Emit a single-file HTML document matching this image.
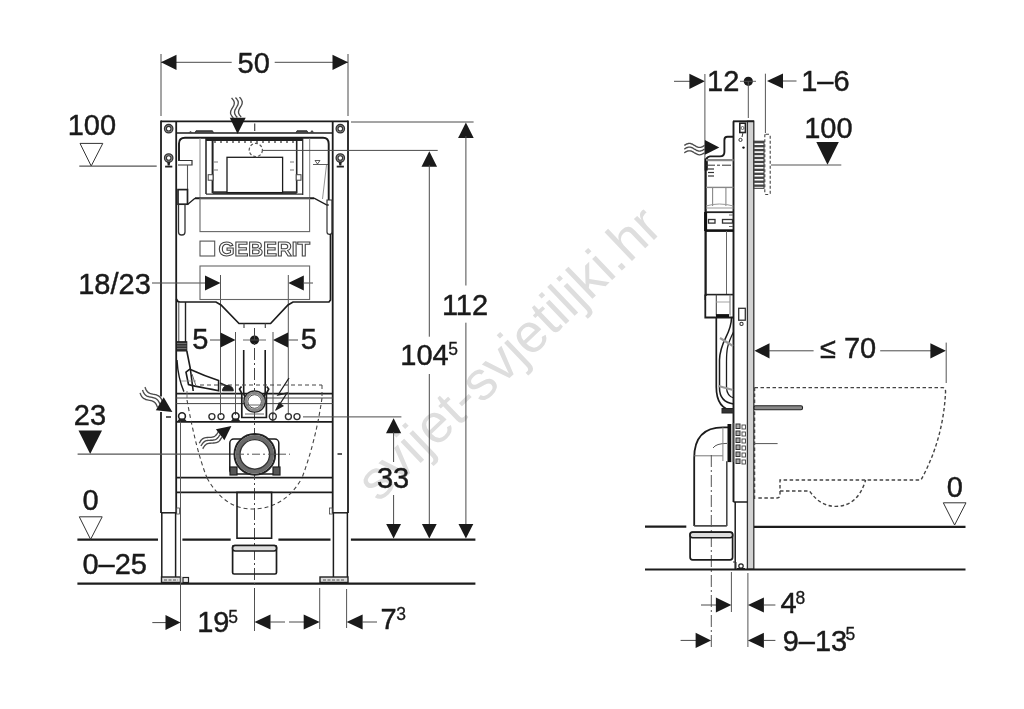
<!DOCTYPE html>
<html><head><meta charset="utf-8"><style>
html,body{margin:0;padding:0;background:#fff;}
svg{display:block;font-family:"Liberation Sans",sans-serif;filter:blur(0.4px);}
</style></head><body>
<svg width="1024" height="709" viewBox="0 0 1024 709">
<rect width="1024" height="709" fill="#fff"/>
<text x="0" y="0" font-size="54.8" fill="#dedede" transform="translate(378.4,503.3) rotate(-43.7)">svijet-svjetiljki.hr</text>
<line x1="161" y1="54" x2="161" y2="116" stroke="#4a4a4a" stroke-width="1.0" stroke-linecap="butt"/>
<line x1="348" y1="54" x2="348" y2="116" stroke="#4a4a4a" stroke-width="1.0" stroke-linecap="butt"/>
<line x1="161" y1="62.3" x2="231.7" y2="62.3" stroke="#4a4a4a" stroke-width="1.0" stroke-linecap="butt"/>
<line x1="274.7" y1="62.3" x2="348" y2="62.3" stroke="#4a4a4a" stroke-width="1.0" stroke-linecap="butt"/>
<polygon points="161.0,62.3 176.5,54.7 176.5,69.9" fill="#1a1a1a"/>
<polygon points="348.0,62.3 332.5,54.7 332.5,69.9" fill="#1a1a1a"/>
<text x="237.5" y="72.6" font-size="29" fill="#1a1a1a" stroke="#1a1a1a" stroke-width="0.45" >50</text>
<text x="67.7" y="135.1" font-size="29" fill="#1a1a1a" stroke="#1a1a1a" stroke-width="0.45" >100</text>
<path d="M80,143.4 L102.8,143.4 L91.2,166 Z" stroke="#333" stroke-width="1.0" fill="none" />
<line x1="79.3" y1="166.2" x2="156.7" y2="166.2" stroke="#555" stroke-width="1.2" stroke-linecap="butt"/>
<line x1="161" y1="121.3" x2="348" y2="121.3" stroke="#1c1c1c" stroke-width="1.8" stroke-linecap="butt"/>
<line x1="161" y1="120.5" x2="161" y2="396.5" stroke="#1c1c1c" stroke-width="1.8" stroke-linecap="butt"/>
<line x1="161" y1="412" x2="161" y2="513" stroke="#1c1c1c" stroke-width="1.8" stroke-linecap="butt"/>
<line x1="348" y1="120.5" x2="348" y2="513" stroke="#1c1c1c" stroke-width="1.8" stroke-linecap="butt"/>
<line x1="176.2" y1="121" x2="176.2" y2="513" stroke="#1c1c1c" stroke-width="1.8" stroke-linecap="butt"/>
<line x1="332.7" y1="121" x2="332.7" y2="513" stroke="#1c1c1c" stroke-width="1.8" stroke-linecap="butt"/>
<line x1="176" y1="133" x2="333" y2="133" stroke="#1c1c1c" stroke-width="1.6" stroke-linecap="butt"/>
<line x1="176" y1="393.6" x2="333" y2="393.6" stroke="#1c1c1c" stroke-width="1.8" stroke-linecap="butt"/>
<line x1="176" y1="398" x2="333" y2="398" stroke="#444" stroke-width="1.0" stroke-linecap="butt"/>
<line x1="176" y1="403.6" x2="333" y2="403.6" stroke="#444" stroke-width="1.0" stroke-linecap="butt"/>
<line x1="176" y1="421.9" x2="333" y2="421.9" stroke="#1c1c1c" stroke-width="1.8" stroke-linecap="butt"/>
<line x1="176" y1="477.7" x2="333" y2="477.7" stroke="#1c1c1c" stroke-width="1.8" stroke-linecap="butt"/>
<line x1="176" y1="492.4" x2="333" y2="492.4" stroke="#1c1c1c" stroke-width="1.8" stroke-linecap="butt"/>
<line x1="161" y1="512.8" x2="176.5" y2="512.8" stroke="#1c1c1c" stroke-width="1.5" stroke-linecap="butt"/>
<line x1="332.6" y1="512.8" x2="348" y2="512.8" stroke="#1c1c1c" stroke-width="1.5" stroke-linecap="butt"/>
<line x1="161.8" y1="512.8" x2="161.8" y2="577" stroke="#1c1c1c" stroke-width="1.5" stroke-linecap="butt"/>
<line x1="175.6" y1="512.8" x2="175.6" y2="577" stroke="#1c1c1c" stroke-width="1.5" stroke-linecap="butt"/>
<line x1="333.4" y1="512.8" x2="333.4" y2="577" stroke="#1c1c1c" stroke-width="1.5" stroke-linecap="butt"/>
<line x1="347.4" y1="512.8" x2="347.4" y2="577" stroke="#1c1c1c" stroke-width="1.5" stroke-linecap="butt"/>
<rect x="161.5" y="577" width="19" height="5.5" stroke="#222" stroke-width="1.4" fill="#ddd" rx="0"/>
<rect x="183" y="577.5" width="5.5" height="5" stroke="#222" stroke-width="1.2" fill="#eee" rx="0"/>
<line x1="164" y1="580" x2="178" y2="580" stroke="#555" stroke-width="1.0" stroke-linecap="butt" stroke-dasharray="3,1.5"/>
<rect x="320" y="577" width="28" height="5.5" stroke="#222" stroke-width="1.4" fill="#ddd" rx="0"/>
<line x1="323" y1="580" x2="345" y2="580" stroke="#555" stroke-width="1.0" stroke-linecap="butt" stroke-dasharray="3,1.5"/>
<circle cx="168.7" cy="128.7" r="4.2" stroke="#333" stroke-width="1.3" fill="#9a9a9a"/>
<circle cx="168.7" cy="128.7" r="2.3" stroke="#333" stroke-width="1.1" fill="#fff"/>
<circle cx="168.7" cy="158" r="4.2" stroke="#333" stroke-width="1.3" fill="#9a9a9a"/>
<circle cx="168.7" cy="158" r="2.3" stroke="#333" stroke-width="1.1" fill="#fff"/>
<polygon points="167.2,162 170.2,162 169.7,165.5 167.7,165.5" fill="#222"/>
<line x1="165.1" y1="166.6" x2="172.29999999999998" y2="166.6" stroke="#222" stroke-width="1.8" stroke-linecap="butt"/>
<circle cx="340.3" cy="128.7" r="4.2" stroke="#333" stroke-width="1.3" fill="#9a9a9a"/>
<circle cx="340.3" cy="128.7" r="2.3" stroke="#333" stroke-width="1.1" fill="#fff"/>
<circle cx="340.3" cy="158" r="4.2" stroke="#333" stroke-width="1.3" fill="#9a9a9a"/>
<circle cx="340.3" cy="158" r="2.3" stroke="#333" stroke-width="1.1" fill="#fff"/>
<polygon points="338.8,162 341.8,162 341.3,165.5 339.3,165.5" fill="#222"/>
<line x1="336.7" y1="166.6" x2="343.90000000000003" y2="166.6" stroke="#222" stroke-width="1.8" stroke-linecap="butt"/>
<line x1="166" y1="417" x2="171" y2="417" stroke="#333" stroke-width="1.6" stroke-linecap="butt"/>
<line x1="337.5" y1="454" x2="342" y2="454" stroke="#333" stroke-width="1.6" stroke-linecap="butt"/>
<rect x="329.5" y="508" width="3" height="6" stroke="#444" stroke-width="0.8" fill="none" rx="0"/>
<rect x="176.5" y="508" width="3" height="6" stroke="#444" stroke-width="0.8" fill="none" rx="0"/>
<line x1="351" y1="122" x2="473.6" y2="122" stroke="#4a4a4a" stroke-width="1.0" stroke-linecap="butt"/>
<polygon points="465.9,122.5 458.1,138.0 473.7,138.0" fill="#1a1a1a"/>
<line x1="465.9" y1="136" x2="465.9" y2="285.5" stroke="#4a4a4a" stroke-width="1.0" stroke-linecap="butt"/>
<line x1="465.9" y1="322.7" x2="465.9" y2="526" stroke="#4a4a4a" stroke-width="1.0" stroke-linecap="butt"/>
<polygon points="465.9,538.5 458.5,524.0 473.3,524.0" fill="#1a1a1a"/>
<text x="441.9" y="315" font-size="29" fill="#1a1a1a" stroke="#1a1a1a" stroke-width="0.45" >112</text>
<polygon points="429.3,151.3 421.5,166.8 437.1,166.8" fill="#1a1a1a"/>
<line x1="429.3" y1="165" x2="429.3" y2="336.7" stroke="#4a4a4a" stroke-width="1.0" stroke-linecap="butt"/>
<line x1="429.3" y1="374" x2="429.3" y2="526" stroke="#4a4a4a" stroke-width="1.0" stroke-linecap="butt"/>
<polygon points="429.3,538.5 421.9,524.0 436.7,524.0" fill="#1a1a1a"/>
<text x="400.3" y="365" font-size="29" fill="#1a1a1a" stroke="#1a1a1a" stroke-width="0.45" >104</text>
<text x="448.3" y="355.3" font-size="17.5" fill="#1a1a1a" stroke="#1a1a1a" stroke-width="0.3" >5</text>
<line x1="303" y1="416.9" x2="401.4" y2="416.9" stroke="#4a4a4a" stroke-width="1.0" stroke-linecap="butt"/>
<polygon points="393.6,418.3 386.0,433.3 401.2,433.3" fill="#1a1a1a"/>
<line x1="393.6" y1="432" x2="393.6" y2="462" stroke="#4a4a4a" stroke-width="1.0" stroke-linecap="butt"/>
<line x1="393.6" y1="495" x2="393.6" y2="526" stroke="#4a4a4a" stroke-width="1.0" stroke-linecap="butt"/>
<polygon points="393.6,538.5 386.2,524.0 401.0,524.0" fill="#1a1a1a"/>
<text x="376.9" y="488" font-size="29" fill="#1a1a1a" stroke="#1a1a1a" stroke-width="0.45" >33</text>
<line x1="77.4" y1="539.7" x2="158" y2="539.7" stroke="#1c1c1c" stroke-width="2.2" stroke-linecap="butt"/>
<line x1="182.4" y1="539.7" x2="230.7" y2="539.7" stroke="#1c1c1c" stroke-width="2.2" stroke-linecap="butt"/>
<line x1="278.4" y1="539.7" x2="330.5" y2="539.7" stroke="#1c1c1c" stroke-width="2.2" stroke-linecap="butt"/>
<line x1="350.9" y1="539.7" x2="475.4" y2="539.7" stroke="#1c1c1c" stroke-width="2.2" stroke-linecap="butt"/>
<line x1="77.4" y1="583.7" x2="475.4" y2="583.7" stroke="#1c1c1c" stroke-width="2.2" stroke-linecap="butt"/>
<text x="82.4" y="510.3" font-size="29" fill="#1a1a1a" stroke="#1a1a1a" stroke-width="0.45" >0</text>
<path d="M79.3,516.8 L102.2,516.8 L90.6,539.4 Z" stroke="#333" stroke-width="1.0" fill="none" />
<text x="82.4" y="574.1" font-size="29" fill="#1a1a1a" stroke="#1a1a1a" stroke-width="0.45" >0–25</text>
<text x="73.8" y="424.5" font-size="29" fill="#1a1a1a" stroke="#1a1a1a" stroke-width="0.45" >23</text>
<polygon points="78.5,430.4 102,430.4 90.2,453.9" fill="#1a1a1a"/>
<line x1="77.6" y1="454.2" x2="236" y2="454.2" stroke="#555" stroke-width="1.2" stroke-linecap="butt"/>
<line x1="240" y1="454.2" x2="290" y2="454.2" stroke="#555" stroke-width="1.0" stroke-linecap="butt" stroke-dasharray="10,3,2,3"/>
<line x1="180.5" y1="420" x2="180.5" y2="631" stroke="#555" stroke-width="1.0" stroke-linecap="butt"/>
<line x1="152.3" y1="622.6" x2="166" y2="622.6" stroke="#4a4a4a" stroke-width="1.0" stroke-linecap="butt"/>
<polygon points="180.5,622.6 165.5,615.1 165.5,630.1" fill="#1a1a1a"/>
<text x="197.2" y="632.2" font-size="29" fill="#1a1a1a" stroke="#1a1a1a" stroke-width="0.45" >19</text>
<text x="228.3" y="622.6" font-size="17.5" fill="#1a1a1a" stroke="#1a1a1a" stroke-width="0.3" >5</text>
<line x1="254.5" y1="588" x2="254.5" y2="631" stroke="#555" stroke-width="1.0" stroke-linecap="butt"/>
<line x1="319.7" y1="588" x2="319.7" y2="629" stroke="#555" stroke-width="1.0" stroke-linecap="butt"/>
<line x1="346.6" y1="589" x2="346.6" y2="628" stroke="#555" stroke-width="1.0" stroke-linecap="butt"/>
<polygon points="254.5,622.0 270.5,614.5 270.5,629.5" fill="#1a1a1a"/>
<line x1="270" y1="622" x2="285" y2="622" stroke="#4a4a4a" stroke-width="1.0" stroke-linecap="butt"/>
<line x1="289" y1="622" x2="305" y2="622" stroke="#4a4a4a" stroke-width="1.0" stroke-linecap="butt"/>
<polygon points="319.7,622.0 303.7,614.5 303.7,629.5" fill="#1a1a1a"/>
<polygon points="346.6,622.0 362.6,614.5 362.6,629.5" fill="#1a1a1a"/>
<line x1="362" y1="622" x2="377" y2="622" stroke="#4a4a4a" stroke-width="1.0" stroke-linecap="butt"/>
<text x="380.6" y="629.3" font-size="29" fill="#1a1a1a" stroke="#1a1a1a" stroke-width="0.45" >7</text>
<text x="396.3" y="619.8" font-size="17.5" fill="#1a1a1a" stroke="#1a1a1a" stroke-width="0.3" >3</text>
<text x="78.2" y="294.3" font-size="29" fill="#1a1a1a" stroke="#1a1a1a" stroke-width="0.45" >18/23</text>
<line x1="152" y1="283" x2="206" y2="283" stroke="#4a4a4a" stroke-width="1.0" stroke-linecap="butt"/>
<polygon points="220.5,283.0 205.0,275.4 205.0,290.6" fill="#1a1a1a"/>
<polygon points="288.3,283.0 303.8,275.4 303.8,290.6" fill="#1a1a1a"/>
<line x1="303" y1="283" x2="313" y2="283" stroke="#4a4a4a" stroke-width="1.0" stroke-linecap="butt"/>
<line x1="220.5" y1="275" x2="220.5" y2="415" stroke="#555" stroke-width="1.0" stroke-linecap="butt"/>
<line x1="288.3" y1="275" x2="288.3" y2="415" stroke="#555" stroke-width="1.0" stroke-linecap="butt"/>
<text x="192.2" y="349.2" font-size="29" fill="#1a1a1a" stroke="#1a1a1a" stroke-width="0.45" >5</text>
<text x="300.7" y="349.2" font-size="29" fill="#1a1a1a" stroke="#1a1a1a" stroke-width="0.45" >5</text>
<line x1="210" y1="340" x2="221" y2="340" stroke="#4a4a4a" stroke-width="1.0" stroke-linecap="butt"/>
<polygon points="235.5,340.0 220.5,332.4 220.5,347.6" fill="#1a1a1a"/>
<polygon points="273.0,340.0 288.0,332.4 288.0,347.6" fill="#1a1a1a"/>
<line x1="288" y1="340" x2="298" y2="340" stroke="#4a4a4a" stroke-width="1.0" stroke-linecap="butt"/>
<line x1="235.5" y1="332" x2="235.5" y2="415" stroke="#555" stroke-width="1.0" stroke-linecap="butt"/>
<line x1="273" y1="332" x2="273" y2="415" stroke="#555" stroke-width="1.0" stroke-linecap="butt"/>
<circle cx="254.5" cy="340" r="4.6" stroke="none" stroke-width="0" fill="#1a1a1a"/>
<line x1="243" y1="340" x2="266" y2="340" stroke="#555" stroke-width="0.9" stroke-linecap="butt"/>
<line x1="254.5" y1="328" x2="254.5" y2="602" stroke="#444" stroke-width="1.0" stroke-linecap="butt" stroke-dasharray="12,3,2,3"/>
<path d="M179,160.5 L179,143.5 Q179,137.8 185,137.8 L323,137.8 Q328.7,137.8 328.7,144 L328.7,200" stroke="#1c1c1c" stroke-width="1.9" fill="none" />
<line x1="200" y1="138" x2="200" y2="198.2" stroke="#888" stroke-width="1.0" stroke-linecap="butt"/>
<line x1="206" y1="137.8" x2="206" y2="194" stroke="#222" stroke-width="1.5" stroke-linecap="butt"/>
<line x1="302.7" y1="137.8" x2="302.7" y2="195" stroke="#333" stroke-width="1.3" stroke-linecap="butt"/>
<line x1="212.6" y1="140" x2="212.6" y2="193" stroke="#222" stroke-width="2.0" stroke-linecap="butt"/>
<line x1="296.7" y1="140" x2="296.7" y2="193" stroke="#222" stroke-width="1.6" stroke-linecap="butt"/>
<line x1="206" y1="194.2" x2="302.7" y2="194.2" stroke="#333" stroke-width="1.3" stroke-linecap="butt"/>
<line x1="212.6" y1="192.6" x2="296.7" y2="192.6" stroke="#333" stroke-width="2.6" stroke-linecap="butt"/>
<line x1="206" y1="139.3" x2="302.7" y2="139.3" stroke="#222" stroke-width="3.2" stroke-linecap="butt"/>
<line x1="214" y1="142" x2="296" y2="142" stroke="#555" stroke-width="1.4" stroke-linecap="butt" stroke-dasharray="2,4"/>
<rect x="227" y="157.3" width="55.6" height="35.3" stroke="#1c1c1c" stroke-width="1.3" fill="#fff" rx="0"/>
<line x1="309.7" y1="138" x2="309.7" y2="199" stroke="#777" stroke-width="0.9" stroke-linecap="butt"/>
<line x1="262.4" y1="150.4" x2="437.7" y2="150.4" stroke="#4a4a4a" stroke-width="1.0" stroke-linecap="butt"/>
<circle cx="255.8" cy="150" r="6.6" fill="#fff" stroke="#555" stroke-width="1.2" stroke-dasharray="3,2"/>
<line x1="214" y1="162" x2="218" y2="162" stroke="#555" stroke-width="0.8" stroke-linecap="butt"/>
<line x1="214" y1="170" x2="218" y2="170" stroke="#555" stroke-width="0.8" stroke-linecap="butt"/>
<line x1="290" y1="162" x2="294" y2="162" stroke="#555" stroke-width="0.8" stroke-linecap="butt"/>
<line x1="290" y1="170" x2="294" y2="170" stroke="#555" stroke-width="0.8" stroke-linecap="butt"/>
<rect x="208.2" y="174.7" width="4.8" height="5.5" stroke="#444" stroke-width="1.0" fill="#fff" rx="0"/>
<rect x="296.2" y="174.7" width="4.8" height="5.5" stroke="#444" stroke-width="1.0" fill="#fff" rx="0"/>
<path d="M315,160.5 L320,160.5 L317.5,164 Z" stroke="#333" stroke-width="0.8" fill="none" />
<line x1="313" y1="164.5" x2="328" y2="164.5" stroke="#333" stroke-width="0.8" stroke-linecap="butt"/>
<line x1="326.5" y1="165" x2="322.5" y2="199" stroke="#777" stroke-width="0.8" stroke-linecap="butt"/>
<path d="M195,133 L196,130.8 L212.5,130.8 L213.5,133" stroke="#333" stroke-width="1.0" fill="#444" />
<path d="M296,133 L297,130.8 L307,130.8 L308,133" stroke="#333" stroke-width="1.0" fill="#444" />
<polygon points="309.5,133 312,130 314.5,133" fill="#444"/>
<polygon points="188,133 190.5,131 193,133" fill="#444"/>
<line x1="254.7" y1="123.5" x2="254.7" y2="131" stroke="#444" stroke-width="1.2" stroke-linecap="butt"/>
<path d="M178,160.5 L192,160.5 L192,165 L178,165" stroke="#333" stroke-width="1.2" fill="none" />
<line x1="187.5" y1="165" x2="187.5" y2="189.6" stroke="#555" stroke-width="1.1" stroke-linecap="butt"/>
<rect x="178" y="189.6" width="9.5" height="14.6" stroke="#222" stroke-width="1.7" fill="none" rx="0"/>
<path d="M178.5,204.2 L178.5,232 Q178.5,235 181.5,235 L182,235 Q185,235 185,232 L185,204.2" stroke="#333" stroke-width="1.3" fill="none" />
<path d="M187.5,204.5 L195,198.2" stroke="#1c1c1c" stroke-width="1.3" fill="none" />
<line x1="195" y1="198.2" x2="314" y2="198.2" stroke="#1c1c1c" stroke-width="1.9" stroke-linecap="butt"/>
<path d="M314,198.2 L327,205 L328.7,205" stroke="#1c1c1c" stroke-width="1.3" fill="none" />
<path d="M327,200 L332,200 L332,232 Q332,234.4 329.5,234.4 Q327,234.4 327,232 Z" stroke="#333" stroke-width="1.2" fill="none" />
<rect x="200" y="198.2" width="109.6" height="33.4" stroke="#666" stroke-width="1.1" fill="none" rx="0"/>
<rect x="200" y="241.1" width="14.7" height="14.9" stroke="#555" stroke-width="1.1" fill="none" rx="0"/>
<text x="218.6" y="256.3" font-size="20.6" font-weight="bold" fill="#fff" stroke="#444" stroke-width="1.1" textLength="91.5" lengthAdjust="spacingAndGlyphs">GEBERIT</text>
<rect x="200" y="266" width="109.6" height="33.5" stroke="#666" stroke-width="1.1" fill="none" rx="0"/>
<path d="M176.5,299 Q177,302 180,302 L216,302 L221,305 L239,323.5 L270.6,323.5 L288,305 L293,302 L329,302 L330.5,300 L330.5,234" stroke="#1c1c1c" stroke-width="1.7" fill="none" />
<line x1="244" y1="323.5" x2="244" y2="328" stroke="#4a4a4a" stroke-width="1.2" stroke-linecap="butt"/>
<line x1="265.3" y1="323.5" x2="265.3" y2="328" stroke="#4a4a4a" stroke-width="1.2" stroke-linecap="butt"/>
<line x1="185.5" y1="302" x2="185.5" y2="342" stroke="#222" stroke-width="1.4" stroke-linecap="butt"/>
<line x1="178.8" y1="302" x2="178.8" y2="342" stroke="#444" stroke-width="1.0" stroke-linecap="butt"/>
<rect x="176.5" y="341.7" width="10.3" height="9.3" stroke="#1c1c1c" stroke-width="1" fill="#333" rx="0"/>
<line x1="177" y1="343.5" x2="186.5" y2="343.5" stroke="#888" stroke-width="0.7" stroke-linecap="butt"/>
<line x1="177" y1="346" x2="186.5" y2="346" stroke="#888" stroke-width="0.7" stroke-linecap="butt"/>
<line x1="177" y1="348.5" x2="186.5" y2="348.5" stroke="#888" stroke-width="0.7" stroke-linecap="butt"/>
<path d="M243.7,350 L243.7,392 Q243.7,398 248,398" stroke="#1c1c1c" stroke-width="1.6" fill="none" />
<path d="M265.2,350 L265.2,392 Q265.2,398 261,398" stroke="#1c1c1c" stroke-width="1.6" fill="none" />
<path d="M186.8,351 Q189,362 190.2,368 L193.2,391" stroke="#1c1c1c" stroke-width="1.6" fill="none" />
<path d="M177,360 Q178,378 183.9,391.6" stroke="#1c1c1c" stroke-width="1.4" fill="none" />
<path d="M186,372.2 L189.8,369.2 Q205,376 218.6,380.6 L218.6,390.8 Q205,388 194.9,386.1 L188.5,384.5 Z" stroke="#1c1c1c" stroke-width="1.6" fill="none" />
<line x1="192" y1="374" x2="196" y2="386" stroke="#666" stroke-width="1.0" stroke-linecap="butt"/>
<line x1="181" y1="381" x2="196" y2="381" stroke="#888" stroke-width="0.8" stroke-linecap="butt"/>
<line x1="187" y1="391" x2="187" y2="398" stroke="#666" stroke-width="0.9" stroke-linecap="butt"/>
<path d="M222.5,390.8 A5.4,5.4 0 0 1 233.3,390.8 Z" stroke="#1c1c1c" stroke-width="1" fill="#222" />
<line x1="220" y1="383" x2="229" y2="387" stroke="#222" stroke-width="1.4" stroke-linecap="butt"/>
<line x1="200" y1="385" x2="322" y2="385" stroke="#444" stroke-width="1.0" stroke-linecap="butt" stroke-dasharray="4,3"/>
<line x1="322" y1="385" x2="322" y2="398" stroke="#444" stroke-width="1.0" stroke-linecap="butt" stroke-dasharray="4,3"/>
<path d="M322,398 Q316,440 302,478" stroke="#444" stroke-width="1.1" fill="none" stroke-dasharray="4,3" />
<path d="M187,400 Q196,450 207,478" stroke="#444" stroke-width="1.1" fill="none" stroke-dasharray="4,3" />
<path d="M207,478 Q225,510 254,509 Q285,508 302,478" stroke="#444" stroke-width="1.1" fill="none" stroke-dasharray="4,3" />
<path d="M289,378 L278,395 L287,393 L276,410" stroke="#222" stroke-width="1.3" fill="none" />
<polygon points="275,411 279,402 284,406" fill="#222"/>
<path d="M241.5,386.5 L239.5,389 L241.8,393.5 L241.8,417.5 L266.4,417.5 L266.4,393.5 L268.7,389 L266.7,386.5" stroke="#1c1c1c" stroke-width="1.7" fill="none" />
<circle cx="254.6" cy="401.5" r="10.6" stroke="#222" stroke-width="1.5" fill="#fff"/>
<circle cx="254.6" cy="401.5" r="8.8" stroke="#888" stroke-width="2.6" fill="none"/>
<circle cx="254.6" cy="401.5" r="6.8" stroke="#444" stroke-width="1.0" fill="none"/>
<line x1="246" y1="405" x2="263" y2="405" stroke="#666" stroke-width="1.0" stroke-linecap="butt"/>
<line x1="245" y1="414" x2="264" y2="414" stroke="#666" stroke-width="1.0" stroke-linecap="butt"/>
<circle cx="211.9" cy="416.6" r="3.0" stroke="#333" stroke-width="1.4" fill="none"/>
<circle cx="221" cy="416.6" r="3.0" stroke="#333" stroke-width="1.4" fill="none"/>
<circle cx="288.4" cy="416.6" r="3.0" stroke="#333" stroke-width="1.4" fill="none"/>
<circle cx="297" cy="416.6" r="3.0" stroke="#333" stroke-width="1.4" fill="none"/>
<circle cx="182" cy="416.2" r="3.4" stroke="#222" stroke-width="1.6" fill="none"/>
<polygon points="177,421.5 179.5,418.5 184.5,418.5 187,421.5" fill="#222"/>
<circle cx="235.6" cy="416.2" r="3.4" stroke="#222" stroke-width="1.6" fill="none"/>
<polygon points="230.6,421.5 233.1,418.5 238.1,418.5 240.6,421.5" fill="#222"/>
<circle cx="272.8" cy="416.5" r="3.5" stroke="#333" stroke-width="1.4" fill="none"/>
<line x1="272.8" y1="413" x2="272.8" y2="421" stroke="#333" stroke-width="1.2" stroke-linecap="butt"/>
<rect x="229.8" y="439" width="49" height="35" stroke="#1c1c1c" stroke-width="1.5" fill="none" rx="4"/>
<circle cx="254.8" cy="454.4" r="20.3" stroke="#222" stroke-width="2" fill="#fff"/>
<circle cx="254.8" cy="454.4" r="17.2" stroke="#6a6a6a" stroke-width="4.2" fill="none"/>
<circle cx="254.8" cy="454.4" r="14.8" stroke="#333" stroke-width="1.4" fill="#fff"/>
<rect x="230" y="467" width="7" height="8" stroke="#1c1c1c" stroke-width="1.2" fill="#555" rx="0"/>
<rect x="273" y="467" width="7" height="8" stroke="#1c1c1c" stroke-width="1.2" fill="#555" rx="0"/>
<line x1="236" y1="454.2" x2="276" y2="454.2" stroke="#555" stroke-width="1.0" stroke-linecap="butt" stroke-dasharray="8,3,2,3"/>
<rect x="237" y="492.4" width="34.6" height="45.8" stroke="#1c1c1c" stroke-width="1.6" fill="none" rx="0"/>
<rect x="232.6" y="545.5" width="43.9" height="28.5" stroke="#1c1c1c" stroke-width="1.7" fill="none" rx="1.5"/>
<rect x="232.6" y="545.5" width="43.9" height="5.5" stroke="#1c1c1c" stroke-width="1.6" fill="#ddd" rx="2.5"/>
<polyline points="144.9,387.1 145.2,387.7 145.4,388.3 145.7,388.9 145.9,389.4 146.2,390.0 146.5,390.5 146.9,391.0 147.2,391.4 147.6,391.9 148.0,392.2 148.5,392.6 149.0,392.9 149.5,393.2 150.0,393.4 150.6,393.6 151.2,393.8 151.8,393.9 152.4,394.1 153.0,394.2 153.7,394.3 154.3,394.4 154.9,394.6 155.6,394.7 156.2,394.9 156.8,395.0 157.3,395.3 157.9,395.5 158.4,395.8 158.9,396.1 159.3,396.4 159.7,396.8 160.1,397.2 160.5,397.7 160.8,398.2 161.1,398.7 161.4,399.2 161.7,399.8 161.9,400.4 162.2,401.0 162.4,401.6" fill="none" stroke="#4a4a4a" stroke-width="1.35"/>
<polyline points="142.5,390.0 142.7,390.6 143.0,391.2 143.2,391.8 143.5,392.4 143.8,392.9 144.1,393.4 144.4,393.9 144.8,394.4 145.2,394.8 145.6,395.2 146.1,395.5 146.5,395.8 147.1,396.1 147.6,396.3 148.2,396.5 148.7,396.7 149.4,396.9 150.0,397.0 150.6,397.1 151.2,397.2 151.9,397.4 152.5,397.5 153.1,397.6 153.8,397.8 154.3,398.0 154.9,398.2 155.4,398.4 156.0,398.7 156.4,399.0 156.9,399.3 157.3,399.7 157.7,400.1 158.1,400.6 158.4,401.1 158.7,401.6 159.0,402.1 159.3,402.7 159.5,403.3 159.8,403.9 160.0,404.5" fill="none" stroke="#4a4a4a" stroke-width="1.35"/>
<polyline points="140.1,392.9 140.3,393.5 140.6,394.1 140.8,394.7 141.1,395.3 141.4,395.8 141.7,396.3 142.0,396.8 142.4,397.3 142.8,397.7 143.2,398.1 143.6,398.4 144.1,398.7 144.6,399.0 145.2,399.2 145.7,399.5 146.3,399.6 146.9,399.8 147.6,399.9 148.2,400.1 148.8,400.2 149.5,400.3 150.1,400.4 150.7,400.6 151.3,400.7 151.9,400.9 152.5,401.1 153.0,401.3 153.5,401.6 154.0,401.9 154.5,402.3 154.9,402.6 155.3,403.1 155.6,403.5 156.0,404.0 156.3,404.5 156.6,405.1 156.8,405.6 157.1,406.2 157.3,406.8 157.6,407.4" fill="none" stroke="#4a4a4a" stroke-width="1.35"/>
<polygon points="155.8,410.2 172.4,411.9 163.7,397.2" fill="#1a1a1a"/>
<polyline points="199.3,443.2 199.6,442.6 199.9,442.1 200.2,441.5 200.6,441.0 200.9,440.5 201.3,440.1 201.7,439.6 202.1,439.2 202.5,438.9 203.0,438.6 203.5,438.3 204.0,438.1 204.5,437.9 205.1,437.8 205.7,437.7 206.3,437.6 206.9,437.5 207.5,437.5 208.2,437.4 208.8,437.4 209.4,437.4 210.1,437.4 210.7,437.3 211.3,437.3 211.9,437.2 212.5,437.1 213.0,436.9 213.6,436.8 214.1,436.5 214.6,436.3 215.0,436.0 215.5,435.6 215.9,435.2 216.3,434.8 216.6,434.3 217.0,433.8 217.3,433.3 217.7,432.8 218.0,432.2 218.3,431.7" fill="none" stroke="#4a4a4a" stroke-width="1.35"/>
<polyline points="201.0,446.0 201.3,445.4 201.6,444.9 202.0,444.4 202.3,443.8 202.6,443.4 203.0,442.9 203.4,442.5 203.8,442.1 204.3,441.7 204.7,441.4 205.2,441.1 205.7,440.9 206.3,440.7 206.8,440.6 207.4,440.5 208.0,440.4 208.6,440.3 209.2,440.3 209.9,440.3 210.5,440.2 211.1,440.2 211.8,440.2 212.4,440.2 213.0,440.1 213.6,440.0 214.2,439.9 214.7,439.8 215.3,439.6 215.8,439.4 216.3,439.1 216.7,438.8 217.2,438.4 217.6,438.0 218.0,437.6 218.4,437.1 218.7,436.7 219.0,436.1 219.4,435.6 219.7,435.1 220.0,434.5" fill="none" stroke="#4a4a4a" stroke-width="1.35"/>
<polyline points="202.7,448.8 203.0,448.3 203.3,447.7 203.7,447.2 204.0,446.7 204.4,446.2 204.7,445.7 205.1,445.3 205.5,444.9 206.0,444.5 206.4,444.2 206.9,444.0 207.4,443.7 208.0,443.6 208.5,443.4 209.1,443.3 209.7,443.2 210.3,443.2 210.9,443.1 211.6,443.1 212.2,443.1 212.8,443.1 213.5,443.0 214.1,443.0 214.7,442.9 215.3,442.8 215.9,442.7 216.5,442.6 217.0,442.4 217.5,442.2 218.0,441.9 218.5,441.6 218.9,441.3 219.3,440.9 219.7,440.4 220.1,440.0 220.4,439.5 220.8,439.0 221.1,438.4 221.4,437.9 221.7,437.3" fill="none" stroke="#4a4a4a" stroke-width="1.35"/>
<polygon points="215.9,429.3 231.4,426.1 224.4,440.3" fill="#1a1a1a"/>
<polyline points="239.5,97.1 239.9,97.6 240.3,98.1 240.7,98.5 241.0,99.0 241.3,99.5 241.6,100.0 241.8,100.5 242.0,100.9 242.2,101.4 242.2,101.9 242.2,102.4 242.2,102.9 242.1,103.5 242.0,104.0 241.8,104.5 241.6,105.0 241.3,105.5 241.0,106.1 240.7,106.6 240.4,107.1 240.1,107.7 239.8,108.2 239.5,108.7 239.2,109.3 239.0,109.8 238.8,110.3 238.7,110.8 238.6,111.3 238.5,111.8 238.5,112.3 238.6,112.8 238.7,113.3 238.9,113.8 239.2,114.3 239.4,114.8 239.8,115.3 240.1,115.7 240.5,116.2 240.9,116.7 241.3,117.1" fill="none" stroke="#4a4a4a" stroke-width="1.35"/>
<polyline points="235.5,97.5 235.9,98.0 236.3,98.4 236.7,98.9 237.0,99.4 237.3,99.9 237.6,100.3 237.9,100.8 238.0,101.3 238.2,101.8 238.2,102.3 238.3,102.8 238.2,103.3 238.1,103.8 238.0,104.3 237.8,104.9 237.6,105.4 237.3,105.9 237.0,106.4 236.7,107.0 236.4,107.5 236.1,108.0 235.8,108.6 235.5,109.1 235.2,109.6 235.0,110.1 234.8,110.7 234.7,111.2 234.6,111.7 234.5,112.2 234.6,112.7 234.6,113.2 234.8,113.7 234.9,114.2 235.2,114.7 235.5,115.1 235.8,115.6 236.1,116.1 236.5,116.6 236.9,117.0 237.3,117.5" fill="none" stroke="#4a4a4a" stroke-width="1.35"/>
<polyline points="231.5,97.9 231.9,98.3 232.3,98.8 232.7,99.3 233.0,99.7 233.4,100.2 233.6,100.7 233.9,101.2 234.1,101.7 234.2,102.2 234.3,102.7 234.3,103.2 234.2,103.7 234.1,104.2 234.0,104.7 233.8,105.2 233.6,105.7 233.3,106.3 233.0,106.8 232.7,107.3 232.4,107.9 232.1,108.4 231.8,108.9 231.5,109.5 231.2,110.0 231.0,110.5 230.8,111.0 230.7,111.5 230.6,112.1 230.6,112.6 230.6,113.1 230.6,113.6 230.8,114.1 231.0,114.5 231.2,115.0 231.5,115.5 231.8,116.0 232.1,116.5 232.5,116.9 232.9,117.4 233.3,117.9" fill="none" stroke="#4a4a4a" stroke-width="1.35"/>
<polygon points="229.8,117.8 245.7,117.8 237.6,134" fill="#1a1a1a"/>
<line x1="674" y1="81.3" x2="690" y2="81.3" stroke="#4a4a4a" stroke-width="1.0" stroke-linecap="butt"/>
<polygon points="704.9,81.3 689.4,73.7 689.4,88.9" fill="#1a1a1a"/>
<line x1="704.9" y1="74" x2="704.9" y2="300" stroke="#555" stroke-width="1.0" stroke-linecap="butt"/>
<text x="707" y="90.7" font-size="29" fill="#1a1a1a" stroke="#1a1a1a" stroke-width="0.45" >12</text>
<circle cx="748.3" cy="81.3" r="4.6" stroke="none" stroke-width="0" fill="#1a1a1a"/>
<line x1="740" y1="81.3" x2="756" y2="81.3" stroke="#555" stroke-width="0.9" stroke-linecap="butt"/>
<line x1="748.3" y1="81.3" x2="748.3" y2="118" stroke="#555" stroke-width="1.0" stroke-linecap="butt"/>
<line x1="765.4" y1="73.7" x2="765.4" y2="133" stroke="#555" stroke-width="1.0" stroke-linecap="butt"/>
<polygon points="767.0,81.0 783.0,73.4 783.0,88.6" fill="#1a1a1a"/>
<line x1="783" y1="81" x2="796.5" y2="81" stroke="#4a4a4a" stroke-width="1.0" stroke-linecap="butt"/>
<text x="801.2" y="91" font-size="29" fill="#1a1a1a" stroke="#1a1a1a" stroke-width="0.45" >1–6</text>
<text x="804.2" y="137.6" font-size="29" fill="#1a1a1a" stroke="#1a1a1a" stroke-width="0.45" >100</text>
<polygon points="816.3,142.1 838.8,142.1 827.5,164.7" fill="#1a1a1a"/>
<line x1="771" y1="165" x2="841.3" y2="165" stroke="#555" stroke-width="1.2" stroke-linecap="butt"/>
<line x1="733.5" y1="121.2" x2="733.5" y2="502" stroke="#1c1c1c" stroke-width="1.9" stroke-linecap="butt"/>
<rect x="747.4" y="121.2" width="6.4" height="448" stroke="#333" stroke-width="1.3" fill="#d2d2d2" rx="0"/>
<line x1="733" y1="121.3" x2="754" y2="121.3" stroke="#1c1c1c" stroke-width="1.9" stroke-linecap="butt"/>
<line x1="735.2" y1="502" x2="735.2" y2="569" stroke="#1c1c1c" stroke-width="1.5" stroke-linecap="butt"/>
<line x1="733.5" y1="502" x2="747.5" y2="502" stroke="#1c1c1c" stroke-width="1.5" stroke-linecap="butt"/>
<circle cx="741" cy="566" r="2.2" stroke="#222" stroke-width="1.2" fill="none"/>
<line x1="737" y1="569" x2="745" y2="569" stroke="#222" stroke-width="2" stroke-linecap="butt"/>
<path d="M733,562 L736,562 L736,569" stroke="#333" stroke-width="1.0" fill="none" />
<rect x="739.8" y="123.2" width="5.6" height="9.3" stroke="#222" stroke-width="1.6" fill="#fff" rx="0"/>
<circle cx="742.5" cy="128" r="1.5" stroke="#444" stroke-width="0.8" fill="none"/>
<line x1="743" y1="132.5" x2="742" y2="137" stroke="#333" stroke-width="1.0" stroke-linecap="butt"/>
<circle cx="740.5" cy="139.9" r="1.6" stroke="#333" stroke-width="1.0" fill="none"/>
<circle cx="743.5" cy="147.6" r="1.2" stroke="none" stroke-width="0" fill="#111"/>
<path d="M733.5,136.8 L727.5,136.8 Q724.4,136.8 724.4,140 L724.4,152 Q724.4,156.4 720,156.4 L710,156.4 Q705.8,157 705.8,162" stroke="#1c1c1c" stroke-width="1.9" fill="none" />
<line x1="706.2" y1="158.5" x2="706.2" y2="170.5" stroke="#111" stroke-width="3.2" stroke-linecap="butt"/>
<line x1="705.8" y1="162" x2="705.8" y2="296" stroke="#1c1c1c" stroke-width="1.9" stroke-linecap="butt"/>
<line x1="706" y1="160.1" x2="733.5" y2="160.1" stroke="#888" stroke-width="2.2" stroke-linecap="butt"/>
<line x1="706" y1="165.2" x2="733.5" y2="165.2" stroke="#333" stroke-width="1.0" stroke-linecap="butt" stroke-dasharray="9,2,3,2"/>
<line x1="708" y1="169" x2="714" y2="169" stroke="#333" stroke-width="1.2" stroke-linecap="butt"/>
<line x1="708" y1="172.5" x2="714" y2="172.5" stroke="#333" stroke-width="1.2" stroke-linecap="butt"/>
<line x1="708" y1="176" x2="714" y2="176" stroke="#333" stroke-width="1.2" stroke-linecap="butt"/>
<line x1="706" y1="187.4" x2="733.5" y2="187.4" stroke="#888" stroke-width="1.4" stroke-linecap="butt"/>
<line x1="712.6" y1="187.4" x2="712.6" y2="206" stroke="#888" stroke-width="1.1" stroke-linecap="butt"/>
<line x1="725.9" y1="187.4" x2="725.9" y2="206" stroke="#888" stroke-width="1.1" stroke-linecap="butt"/>
<path d="M706,206 Q719,202 733.5,206" stroke="#999" stroke-width="1.0" fill="none" />
<line x1="706" y1="208" x2="733.5" y2="208" stroke="#999" stroke-width="1.0" stroke-linecap="butt"/>
<line x1="705.6" y1="212.2" x2="733.5" y2="212.2" stroke="#222" stroke-width="1.8" stroke-linecap="butt"/>
<line x1="705.6" y1="230.6" x2="733.5" y2="230.6" stroke="#111" stroke-width="2.6" stroke-linecap="butt"/>
<rect x="708.5" y="219.5" width="6.5" height="3.6" stroke="#333" stroke-width="1.3" fill="none" rx="0"/>
<rect x="722.5" y="219.5" width="10" height="3.6" stroke="#333" stroke-width="1.3" fill="none" rx="0"/>
<line x1="729" y1="215" x2="733" y2="215" stroke="#555" stroke-width="0.9" stroke-linecap="butt"/>
<line x1="729" y1="226.5" x2="733" y2="226.5" stroke="#555" stroke-width="0.9" stroke-linecap="butt"/>
<line x1="705.6" y1="212" x2="705.6" y2="231" stroke="#111" stroke-width="3" stroke-linecap="butt"/>
<line x1="726.5" y1="231" x2="726.5" y2="294" stroke="#666" stroke-width="1.0" stroke-linecap="butt"/>
<line x1="705.6" y1="294.6" x2="733.5" y2="294.6" stroke="#222" stroke-width="1.6" stroke-linecap="butt"/>
<path d="M705.3,294.6 L705.3,317.5 L733.5,317.5" stroke="#1c1c1c" stroke-width="1.8" fill="none" />
<line x1="716.3" y1="294.6" x2="716.3" y2="315.6" stroke="#444" stroke-width="1.1" stroke-linecap="butt"/>
<line x1="730" y1="294.6" x2="730" y2="315.6" stroke="#777" stroke-width="1.0" stroke-linecap="butt"/>
<line x1="716" y1="302" x2="730" y2="302" stroke="#999" stroke-width="0.9" stroke-linecap="butt"/>
<line x1="716" y1="315.6" x2="729" y2="315.6" stroke="#111" stroke-width="3.0" stroke-linecap="butt"/>
<rect x="754" y="141.2" width="10" height="47.1" stroke="#333" stroke-width="1.0" fill="#fff" rx="0"/>
<line x1="754" y1="142.2" x2="764" y2="142.2" stroke="#444" stroke-width="2.3" stroke-linecap="butt"/>
<line x1="754" y1="146.14999999999998" x2="764" y2="146.14999999999998" stroke="#444" stroke-width="2.3" stroke-linecap="butt"/>
<line x1="754" y1="150.1" x2="764" y2="150.1" stroke="#444" stroke-width="2.3" stroke-linecap="butt"/>
<line x1="754" y1="154.04999999999998" x2="764" y2="154.04999999999998" stroke="#444" stroke-width="2.3" stroke-linecap="butt"/>
<line x1="754" y1="158.0" x2="764" y2="158.0" stroke="#444" stroke-width="2.3" stroke-linecap="butt"/>
<line x1="754" y1="161.95" x2="764" y2="161.95" stroke="#444" stroke-width="2.3" stroke-linecap="butt"/>
<line x1="754" y1="165.89999999999998" x2="764" y2="165.89999999999998" stroke="#444" stroke-width="2.3" stroke-linecap="butt"/>
<line x1="754" y1="169.85" x2="764" y2="169.85" stroke="#444" stroke-width="2.3" stroke-linecap="butt"/>
<line x1="754" y1="173.79999999999998" x2="764" y2="173.79999999999998" stroke="#444" stroke-width="2.3" stroke-linecap="butt"/>
<line x1="754" y1="177.75" x2="764" y2="177.75" stroke="#444" stroke-width="2.3" stroke-linecap="butt"/>
<line x1="754" y1="181.7" x2="764" y2="181.7" stroke="#444" stroke-width="2.3" stroke-linecap="butt"/>
<line x1="754" y1="185.64999999999998" x2="764" y2="185.64999999999998" stroke="#444" stroke-width="2.3" stroke-linecap="butt"/>
<rect x="764.8" y="134.3" width="5.4" height="60.2" rx="1.2" fill="none" stroke="#444" stroke-width="1.1" stroke-dasharray="3,2"/>
<polyline points="684.3,145.4 684.8,145.1 685.3,144.8 685.8,144.5 686.3,144.2 686.8,144.0 687.3,143.8 687.9,143.6 688.4,143.5 688.9,143.4 689.4,143.4 689.9,143.4 690.4,143.5 690.9,143.6 691.4,143.8 691.9,144.0 692.4,144.2 692.9,144.5 693.4,144.8 693.9,145.1 694.5,145.4 695.0,145.7 695.5,146.0 696.0,146.3 696.5,146.6 697.0,146.8 697.5,147.0 698.0,147.2 698.5,147.3 699.0,147.4 699.5,147.4 700.0,147.4 700.5,147.3 701.0,147.2 701.6,147.0 702.1,146.8 702.6,146.6 703.1,146.3 703.6,146.0 704.1,145.7 704.6,145.4" fill="none" stroke="#4a4a4a" stroke-width="1.35"/>
<polyline points="684.3,149.1 684.8,148.8 685.3,148.5 685.8,148.2 686.3,147.9 686.8,147.7 687.3,147.5 687.9,147.3 688.4,147.2 688.9,147.1 689.4,147.1 689.9,147.1 690.4,147.2 690.9,147.3 691.4,147.5 691.9,147.7 692.4,147.9 692.9,148.2 693.4,148.5 693.9,148.8 694.5,149.1 695.0,149.4 695.5,149.7 696.0,150.0 696.5,150.3 697.0,150.5 697.5,150.7 698.0,150.9 698.5,151.0 699.0,151.1 699.5,151.1 700.0,151.1 700.5,151.0 701.0,150.9 701.6,150.7 702.1,150.5 702.6,150.3 703.1,150.0 703.6,149.7 704.1,149.4 704.6,149.1" fill="none" stroke="#4a4a4a" stroke-width="1.35"/>
<polyline points="684.3,152.8 684.8,152.5 685.3,152.2 685.8,151.9 686.3,151.6 686.8,151.4 687.3,151.2 687.9,151.0 688.4,150.9 688.9,150.8 689.4,150.8 689.9,150.8 690.4,150.9 690.9,151.0 691.4,151.2 691.9,151.4 692.4,151.6 692.9,151.9 693.4,152.2 693.9,152.5 694.5,152.8 695.0,153.1 695.5,153.4 696.0,153.7 696.5,154.0 697.0,154.2 697.5,154.4 698.0,154.6 698.5,154.7 699.0,154.8 699.5,154.8 700.0,154.8 700.5,154.7 701.0,154.6 701.6,154.4 702.1,154.2 702.6,154.0 703.1,153.7 703.6,153.4 704.1,153.1 704.6,152.8" fill="none" stroke="#4a4a4a" stroke-width="1.35"/>
<polygon points="719.3,147.4 704.9,140.1 704.9,154.7" fill="#1a1a1a"/>
<rect x="738.7" y="308.3" width="6.6" height="11.9" stroke="#333" stroke-width="1.3" fill="none" rx="0"/>
<circle cx="741.5" cy="323.9" r="1.6" stroke="#333" stroke-width="1.1" fill="none"/>
<path d="M716.3,317.5 L716.3,387 Q716.3,409 733.7,411" stroke="#1c1c1c" stroke-width="1.7" fill="none" />
<path d="M731.5,317.5 C731.5,335 720,340 719.5,360 L719.5,388 Q719.5,402 733.7,404" stroke="#1c1c1c" stroke-width="1.5" fill="none" />
<path d="M733.5,332 C727,345 726.5,350 726.5,362 L726.5,388 Q727,396 733.7,398" stroke="#1c1c1c" stroke-width="1.3" fill="none" />
<line x1="720" y1="338" x2="733" y2="346" stroke="#999" stroke-width="2.2" stroke-linecap="butt"/>
<line x1="718.5" y1="386" x2="733" y2="390" stroke="#999" stroke-width="2.2" stroke-linecap="butt"/>
<rect x="722" y="408.5" width="11.5" height="4.5" stroke="#222" stroke-width="1" fill="#333" rx="0"/>
<polygon points="754.5,350.8 769.5,343.2 769.5,358.4" fill="#1a1a1a"/>
<line x1="769" y1="350.8" x2="813.6" y2="350.8" stroke="#4a4a4a" stroke-width="1.0" stroke-linecap="butt"/>
<text x="820" y="358" font-size="29" fill="#1a1a1a" stroke="#1a1a1a" stroke-width="0.45" >≤ 70</text>
<line x1="880.2" y1="350.8" x2="931" y2="350.8" stroke="#4a4a4a" stroke-width="1.0" stroke-linecap="butt"/>
<polygon points="945.9,350.8 930.4,343.2 930.4,358.4" fill="#1a1a1a"/>
<line x1="946.2" y1="342.6" x2="946.2" y2="383" stroke="#555" stroke-width="1.0" stroke-linecap="butt"/>
<path d="M754.5,387.6 L943,387.6 Q946,388 945.5,393 Q943,440 921,480 L780,480 L780,495 Q780,498 777,498 L756,498" stroke="#444" stroke-width="1.4" fill="none" stroke-dasharray="3.5,2.5" />
<path d="M780,491 L809.6,491 Q820,506.4 836,506.4 Q858,506 865.6,480" stroke="#444" stroke-width="1.4" fill="none" stroke-dasharray="3.5,2.5" />
<line x1="754.6" y1="387.6" x2="754.6" y2="500" stroke="#444" stroke-width="1.3" stroke-linecap="butt" stroke-dasharray="3.5,2.5"/>
<rect x="754" y="405.8" width="48.5" height="4" stroke="#222" stroke-width="1.1" fill="#888" rx="1.5"/>
<path d="M694.2,525.9 L694.2,458 Q694.2,427.4 723,427.4 L728.3,427.4" stroke="#1c1c1c" stroke-width="1.8" fill="none" />
<line x1="694.2" y1="525.9" x2="726.8" y2="525.9" stroke="#4a4a4a" stroke-width="1.8" stroke-linecap="butt"/>
<line x1="726.8" y1="461.3" x2="726.8" y2="525.9" stroke="#4a4a4a" stroke-width="1.6" stroke-linecap="butt"/>
<path d="M713,448 Q716,443.4 727,443.4" stroke="#555" stroke-width="1.0" fill="none" />
<line x1="694.2" y1="455.8" x2="722.9" y2="455.8" stroke="#777" stroke-width="1.0" stroke-linecap="butt"/>
<line x1="722.9" y1="427.4" x2="722.9" y2="461" stroke="#888" stroke-width="1.0" stroke-linecap="butt"/>
<rect x="728.3" y="424.8" width="2.2" height="36.5" stroke="#111" stroke-width="1.6" fill="#111" rx="0"/>
<line x1="733.2" y1="423" x2="733.2" y2="462" stroke="#555" stroke-width="1.0" stroke-linecap="butt"/>
<rect x="736" y="424" width="4" height="4.5" stroke="#333" stroke-width="1.0" fill="#aaa" rx="0"/>
<rect x="742" y="425" width="3.5" height="4" stroke="#444" stroke-width="0.9" fill="none" rx="0"/>
<rect x="736" y="431" width="4" height="4.5" stroke="#333" stroke-width="1.0" fill="#aaa" rx="0"/>
<rect x="742" y="432" width="3.5" height="4" stroke="#444" stroke-width="0.9" fill="none" rx="0"/>
<rect x="736" y="438" width="4" height="4.5" stroke="#333" stroke-width="1.0" fill="#aaa" rx="0"/>
<rect x="742" y="439" width="3.5" height="4" stroke="#444" stroke-width="0.9" fill="none" rx="0"/>
<rect x="736" y="445" width="4" height="4.5" stroke="#333" stroke-width="1.0" fill="#aaa" rx="0"/>
<rect x="742" y="446" width="3.5" height="4" stroke="#444" stroke-width="0.9" fill="none" rx="0"/>
<rect x="736" y="452" width="4" height="4.5" stroke="#333" stroke-width="1.0" fill="#aaa" rx="0"/>
<rect x="742" y="453" width="3.5" height="4" stroke="#444" stroke-width="0.9" fill="none" rx="0"/>
<rect x="736" y="459" width="4" height="4.5" stroke="#333" stroke-width="1.0" fill="#aaa" rx="0"/>
<rect x="742" y="460" width="3.5" height="4" stroke="#444" stroke-width="0.9" fill="none" rx="0"/>
<line x1="754" y1="443.6" x2="777.6" y2="443.6" stroke="#555" stroke-width="1.0" stroke-linecap="butt"/>
<line x1="711.3" y1="455" x2="711.3" y2="648" stroke="#555" stroke-width="1.0" stroke-linecap="butt" stroke-dasharray="12,3,2,3"/>
<line x1="645" y1="526.6" x2="686.3" y2="526.6" stroke="#1c1c1c" stroke-width="2.2" stroke-linecap="butt"/>
<line x1="754" y1="526.8" x2="965.5" y2="526.8" stroke="#1c1c1c" stroke-width="2.2" stroke-linecap="butt"/>
<line x1="645" y1="569.5" x2="965.5" y2="569.5" stroke="#1c1c1c" stroke-width="2.2" stroke-linecap="butt"/>
<rect x="690.1" y="532.2" width="42.5" height="27.6" stroke="#1c1c1c" stroke-width="1.7" fill="none" rx="2.5"/>
<rect x="690.1" y="532.2" width="42.5" height="5.5" stroke="#1c1c1c" stroke-width="1.6" fill="#ddd" rx="2.5"/>
<text x="946.8" y="497" font-size="29" fill="#1a1a1a" stroke="#1a1a1a" stroke-width="0.45" >0</text>
<path d="M943.3,502.8 L966,502.8 L954.6,525 Z" stroke="#333" stroke-width="1.0" fill="none" />
<line x1="731.4" y1="572" x2="731.4" y2="612" stroke="#555" stroke-width="1.0" stroke-linecap="butt"/>
<line x1="747.9" y1="573" x2="747.9" y2="647" stroke="#555" stroke-width="1.0" stroke-linecap="butt"/>
<line x1="701" y1="605" x2="716" y2="605" stroke="#4a4a4a" stroke-width="1.0" stroke-linecap="butt"/>
<polygon points="731.4,605.0 715.9,597.4 715.9,612.6" fill="#1a1a1a"/>
<polygon points="747.9,605.0 763.9,597.4 763.9,612.6" fill="#1a1a1a"/>
<line x1="764" y1="605" x2="775.4" y2="605" stroke="#4a4a4a" stroke-width="1.0" stroke-linecap="butt"/>
<text x="780.4" y="612.6" font-size="29" fill="#1a1a1a" stroke="#1a1a1a" stroke-width="0.45" >4</text>
<text x="795.5" y="603.5" font-size="17.5" fill="#1a1a1a" stroke="#1a1a1a" stroke-width="0.3" >8</text>
<line x1="680.6" y1="640.4" x2="696" y2="640.4" stroke="#4a4a4a" stroke-width="1.0" stroke-linecap="butt"/>
<polygon points="711.1,640.4 695.6,632.8 695.6,648.0" fill="#1a1a1a"/>
<polygon points="747.9,640.4 763.9,632.8 763.9,648.0" fill="#1a1a1a"/>
<line x1="764" y1="640.4" x2="775.4" y2="640.4" stroke="#4a4a4a" stroke-width="1.0" stroke-linecap="butt"/>
<text x="782.7" y="650.5" font-size="29" fill="#1a1a1a" stroke="#1a1a1a" stroke-width="0.45" >9–13</text>
<text x="845.6" y="640.3" font-size="17.5" fill="#1a1a1a" stroke="#1a1a1a" stroke-width="0.3" >5</text>
</svg></body></html>
